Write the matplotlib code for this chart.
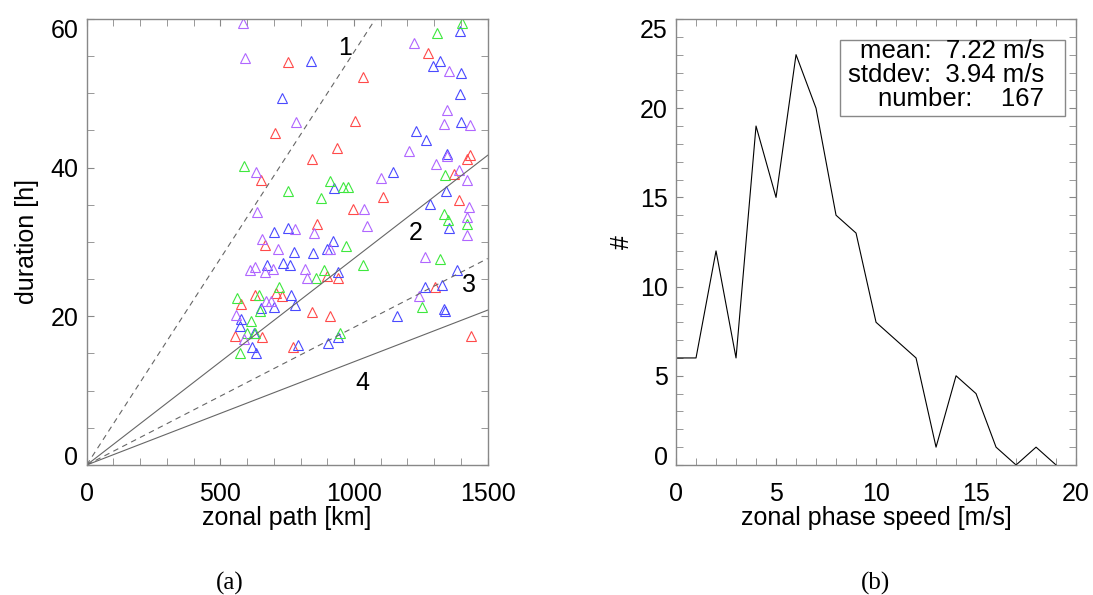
import matplotlib
matplotlib.use('Agg')
import matplotlib.pyplot as plt
from matplotlib.ticker import MultipleLocator
from matplotlib.patches import Rectangle
import numpy as np

plt.rcParams['font.family'] = ['Liberation Sans', 'DejaVu Sans']

# (a) zonal path [km] / duration [h] of each event, by colour group
purple_x = [586, 592, 783, 633, 637, 654, 715, 779, 850, 912, 612, 631, 667, 698, 818, 824,
            672, 689, 558, 590, 1049, 1036, 1101, 1204, 1223, 1307, 1346, 1337, 1346, 1355,
            1394, 1423, 1432, 1429, 1423, 1423, 1266, 1242]
purple_y = [59.4, 54.7, 46.2, 39.4, 34.0, 30.4, 29.0, 31.7, 31.2, 29.0, 26.2, 26.7, 25.9, 26.4,
            26.4, 25.2, 22.1, 22.1, 20.2, 16.9, 32.2, 34.5, 38.6, 42.3, 56.8, 40.5, 41.6, 45.9,
            47.7, 53.0, 39.7, 38.3, 45.7, 34.7, 33.4, 31.0, 28.0, 22.8]
red_x = [753, 706, 653, 667, 631, 708, 731, 577, 556, 657, 770, 843, 912, 899, 940, 860, 843,
         937, 998, 1107, 1004, 1033, 1277, 1303, 1375, 1391, 1423, 1432, 1436]
red_y = [54.2, 44.7, 38.4, 29.6, 22.9, 23.1, 22.8, 21.7, 17.4, 17.2, 15.9, 20.6, 20.0, 25.4,
         25.2, 32.4, 41.2, 42.6, 34.5, 36.0, 46.3, 52.2, 55.4, 23.9, 39.2, 35.6, 41.2, 41.7, 17.4]
blue_x = [839, 731, 925, 1146, 1233, 1270, 1296, 1323, 1396, 1402, 1396, 1400, 1348, 1343, 1284,
          1355, 1384, 1264, 1328, 1335, 1341, 1159, 940, 920, 899, 848, 775, 753, 699, 676, 736,
          762, 763, 779, 702, 653, 579, 575, 627, 617, 633, 792, 902, 940]
blue_y = [54.4, 49.4, 37.2, 39.4, 44.9, 43.7, 53.7, 54.4, 58.4, 52.7, 49.9, 46.2, 41.9, 36.9,
          35.1, 31.9, 26.2, 23.9, 24.2, 21.0, 20.7, 20.0, 26.0, 30.1, 29.0, 28.5, 28.6, 31.9,
          31.4, 26.9, 27.2, 26.9, 22.9, 21.5, 21.2, 21.1, 19.7, 18.7, 17.8, 15.9, 15.1, 16.1,
          16.4, 17.2]
green_x = [589, 753, 876, 912, 960, 976, 718, 646, 650, 562, 614, 601, 631, 575, 888, 856, 969,
           1033, 946, 1311, 1403, 1339, 1337, 1352, 1423, 1320, 1255]
green_y = [40.2, 36.9, 35.9, 38.2, 37.4, 37.4, 23.9, 22.9, 20.7, 22.5, 19.4, 17.7, 17.8, 15.1,
           26.2, 25.2, 29.5, 26.9, 17.7, 58.1, 59.4, 39.0, 33.7, 32.9, 32.4, 27.7, 21.2]

# reference phase speeds [m/s] for lines 1-4
ref_speeds = [5, 10, 15, 20]
ref_labels = ['1', '2', '3', '4']

# (b) histogram of zonal phase speed
speed_bins = list(range(20))
counts = [6, 6, 12, 6, 19, 15, 23, 20, 14, 13, 8, 7, 6, 1, 5, 4, 1, 0, 1, 0]
stats = ['mean:  7.22 m/s', 'stddev:  3.94 m/s', 'number:    167']

fig = plt.figure(figsize=(10.93, 5.95), dpi=100)
ax1 = fig.add_axes([0.0793, 0.2185, 0.3669, 0.7496])
ax2 = fig.add_axes([0.6185, 0.2185, 0.3660, 0.7496])

spine_col = '#888888'
for ax in (ax1, ax2):
    for s in ax.spines.values():
        s.set_color(spine_col)
        s.set_linewidth(1.0)
    ax.tick_params(which='both', direction='in', top=True, right=True,
                   color=spine_col, labelsize=18, length=5)
    ax.tick_params(axis='x', pad=12)
    ax.tick_params(axis='y', pad=6)

# left panel
mk = dict(marker='^', linestyle='none', markersize=7, markerfacecolor='none', markeredgewidth=0.8)
ax1.plot(red_x, red_y, markeredgecolor='#ff4a4a', **mk)
ax1.plot(blue_x, blue_y, markeredgecolor='#4a4aff', **mk)
ax1.plot(green_x, green_y, markeredgecolor='#3ee83e', **mk)
ax1.plot(purple_x, purple_y, markeredgecolor='#b066ff', **mk)

xs = np.array([0, 1500])
for v, lab in zip(ref_speeds, ref_labels):
    kmh = v * 3.6
    if lab in ('1', '3'):
        ax1.plot(xs, xs / kmh, color='#666666', lw=0.8, linestyle='--', dashes=(5, 4))
    else:
        ax1.plot(xs, xs / kmh, color='#666666', lw=0.8)

ax1.text(966, 56.1, '1', fontsize=18, ha='center', va='center')
ax1.text(1230, 31.2, '2', fontsize=18, ha='center', va='center')
ax1.text(1429, 24.2, '3', fontsize=18, ha='center', va='center')
ax1.text(1030, 11.0, '4', fontsize=18, ha='center', va='center')

ax1.set_xlim(0, 1500)
ax1.set_ylim(0, 60)
ax1.set_xticks([0, 500, 1000, 1500])
ax1.set_yticks([0, 20, 40, 60])
ax1.xaxis.set_minor_locator(MultipleLocator(100))
ax1.yaxis.set_minor_locator(MultipleLocator(5))
ax1.set_xlabel('zonal path [km]', fontsize=18, labelpad=0)
ax1.set_ylabel('duration [h]', fontsize=18, labelpad=8)

# right panel
ax2.plot(speed_bins, counts, color='black', lw=0.8)
ax2.set_xlim(0, 20)
ax2.set_ylim(0, 25)
ax2.set_xticks([0, 5, 10, 15, 20])
ax2.set_yticks([0, 5, 10, 15, 20, 25])
ax2.xaxis.set_minor_locator(MultipleLocator(1))
ax2.yaxis.set_minor_locator(MultipleLocator(1))
ax2.set_xlabel('zonal phase speed [m/s]', fontsize=18, labelpad=0)
ax2.set_ylabel('#', fontsize=18, labelpad=4)

ax2.add_patch(Rectangle((0.41, 0.7825), 0.5625, 0.1705, transform=ax2.transAxes,
                        facecolor='white', edgecolor=spine_col, lw=1.0))
ax2.text(0.92, 0.874, '\n'.join(stats), transform=ax2.transAxes, fontsize=18.5,
         ha='right', va='center', multialignment='right', linespacing=1.0)

fig.text(230 / 1093, 1 - 583 / 595, '(a)', fontsize=18, family='Liberation Serif',
         ha='center', va='center')
fig.text(875 / 1093, 1 - 583 / 595, '(b)', fontsize=18, family='Liberation Serif',
         ha='center', va='center')

# keep end labels of the y axes inside the frame (ticks get their positions on draw)
fig.canvas.draw()
for ax in (ax1, ax2):
    lo, hi = ax.get_ylim()
    for t in ax.yaxis.get_major_ticks():
        if abs(t.get_loc() - lo) < 1e-9:
            t.label1.set_va('baseline')
        elif abs(t.get_loc() - hi) < 1e-9:
            t.label1.set_va('top')

fig.savefig('out.png', dpi=100)
